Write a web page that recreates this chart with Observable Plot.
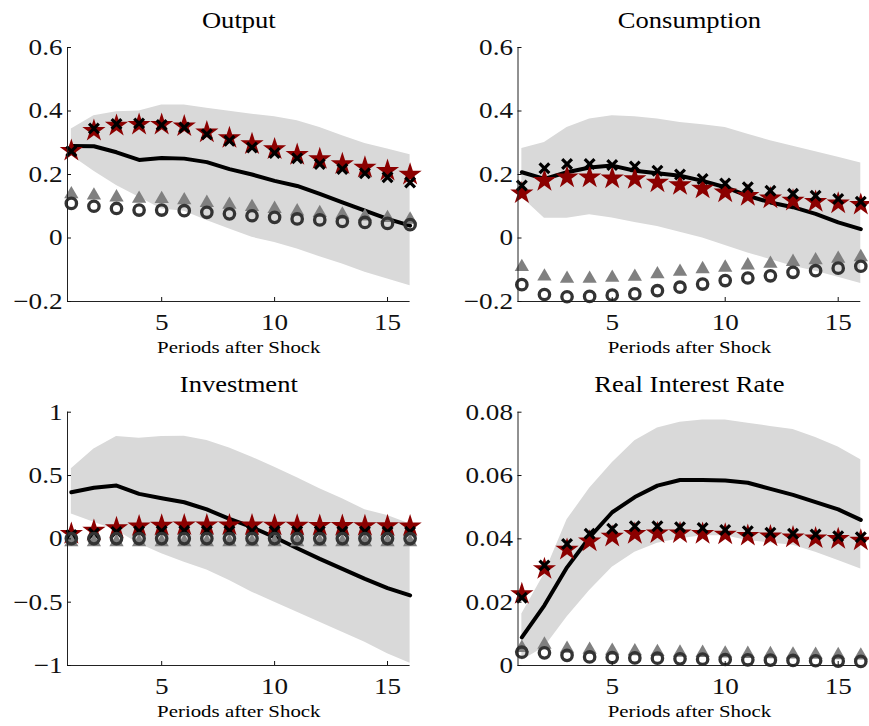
<!DOCTYPE html>
<html><head><meta charset="utf-8">
<script src="https://cdn.jsdelivr.net/npm/d3@7"></script>
<script src="https://cdn.jsdelivr.net/npm/@observablehq/plot@0.6"></script>
<style>
body{margin:0;background:#fff;}
#chart{position:relative;width:869px;height:726px;}
.panel{position:absolute;}
</style></head><body><div id="chart"></div>
<script>
const periods = [1,2,3,4,5,6,7,8,9,10,11,12,13,14,15,16];
const xTicks = [5,10,15];
const xLabel = "Periods after Shock";

// Output
const outTicks = [-0.2, 0, 0.2, 0.4, 0.6];
const outBandLo = [0.26,0.21,0.165,0.128,0.091,0.084,0.055,0.028,0.002,-0.014,-0.035,-0.059,-0.082,-0.108,-0.129,-0.15];
const outBandHi = [0.343,0.385,0.398,0.400,0.419,0.419,0.409,0.399,0.390,0.382,0.369,0.348,0.322,0.298,0.280,0.262];
const outLine = [0.29,0.289,0.27,0.246,0.252,0.25,0.239,0.217,0.2,0.18,0.164,0.139,0.112,0.086,0.06,0.039];
const outStar = [0.275,0.338,0.354,0.357,0.357,0.352,0.333,0.315,0.296,0.28,0.262,0.249,0.233,0.222,0.212,0.2];
const outCross = [0.273,0.345,0.359,0.361,0.356,0.348,0.327,0.306,0.285,0.268,0.251,0.233,0.217,0.204,0.191,0.175];
const outTri = [0.138,0.134,0.128,0.124,0.123,0.119,0.111,0.105,0.098,0.092,0.084,0.079,0.074,0.068,0.063,0.058];
const outCirc = [0.109,0.1,0.093,0.088,0.088,0.086,0.081,0.076,0.07,0.065,0.06,0.057,0.052,0.049,0.046,0.042];

// Consumption
const conTicks = [-0.2, 0, 0.2, 0.4, 0.6];
const conBandLo = [0.128,0.062,0.062,0.073,0.063,0.049,0.036,0.018,0.0,-0.024,-0.047,-0.068,-0.089,-0.105,-0.124,-0.143];
const conBandHi = [0.282,0.301,0.348,0.375,0.385,0.382,0.375,0.364,0.357,0.348,0.327,0.306,0.289,0.272,0.254,0.236];
const conLine = [0.207,0.186,0.207,0.222,0.228,0.212,0.204,0.196,0.18,0.16,0.133,0.112,0.097,0.076,0.049,0.028];
const conStar = [0.141,0.18,0.191,0.191,0.188,0.186,0.175,0.167,0.156,0.144,0.133,0.125,0.118,0.114,0.109,0.105];
const conCross = [0.165,0.22,0.233,0.233,0.23,0.225,0.212,0.2,0.186,0.172,0.16,0.149,0.139,0.133,0.123,0.114];
const conTri = [-0.091,-0.121,-0.128,-0.128,-0.125,-0.122,-0.114,-0.106,-0.098,-0.093,-0.086,-0.081,-0.075,-0.070,-0.065,-0.060];
const conCirc = [-0.147,-0.178,-0.185,-0.184,-0.18,-0.176,-0.166,-0.155,-0.145,-0.134,-0.126,-0.119,-0.108,-0.103,-0.095,-0.089];

// Investment
const invTicks = [-1, -0.5, 0, 0.5, 1];
const invBandLo = [0.197,0.132,0.066,-0.039,-0.118,-0.184,-0.245,-0.329,-0.421,-0.5,-0.579,-0.658,-0.737,-0.816,-0.908,-0.982];
const invBandHi = [0.553,0.71,0.808,0.795,0.808,0.81,0.776,0.718,0.645,0.566,0.482,0.395,0.316,0.229,0.184,0.118];
const invLine = [0.368,0.403,0.421,0.355,0.321,0.289,0.232,0.158,0.092,0.013,-0.074,-0.158,-0.237,-0.316,-0.389,-0.447];
const invStar = [0.04,0.065,0.085,0.1,0.105,0.108,0.108,0.108,0.107,0.106,0.105,0.104,0.103,0.102,0.101,0.1];
const invCross = [0.03,0.045,0.055,0.06,0.062,0.063,0.063,0.063,0.062,0.061,0.06,0.06,0.059,0.058,0.057,0.056];
const invTri = [-0.025,-0.025,-0.025,-0.025,-0.025,-0.025,-0.025,-0.025,-0.025,-0.025,-0.025,-0.025,-0.025,-0.025,-0.025,-0.025];
const invCirc = [0.002,0.002,0.002,0.002,0.002,0.002,0.002,0.002,0.002,0.002,0.002,0.002,0.002,0.002,0.002,0.002];

// Real Interest Rate
const rirTicks = [0, 0.02, 0.04, 0.06, 0.08];
const rirBandLo = [0.0016,0.0058,0.0153,0.0237,0.031,0.0358,0.0386,0.04,0.041,0.041,0.0395,0.0387,0.038,0.0358,0.0332,0.0305];
const rirBandHi = [0.0163,0.029,0.046,0.056,0.064,0.071,0.075,0.0768,0.0775,0.0775,0.0765,0.0755,0.0745,0.072,0.069,0.065];
const rirLine = [0.0089,0.019,0.031,0.0405,0.0484,0.0532,0.0568,0.0586,0.0586,0.0584,0.0577,0.0558,0.0539,0.0516,0.0493,0.046];
const rirStar = [0.0226,0.0305,0.0366,0.0392,0.0407,0.0416,0.0418,0.0418,0.0416,0.0414,0.041,0.0408,0.0405,0.0402,0.04,0.0395];
const rirCross = [0.0214,0.0316,0.0384,0.0416,0.0432,0.044,0.044,0.0437,0.0434,0.0428,0.0424,0.0419,0.0416,0.0414,0.0408,0.0405];
const rirTri = [0.0056,0.0066,0.0053,0.005,0.0047,0.0045,0.0043,0.0041,0.004,0.0038,0.0037,0.0036,0.0035,0.0034,0.0033,0.0032];
const rirCirc = [0.0042,0.004,0.0032,0.0027,0.0025,0.0024,0.0023,0.0021,0.002,0.0019,0.0018,0.0017,0.0016,0.0015,0.0014,0.0013];

const xDomain = [0.83, 16];
const fmt = d3.format("~g");
const FONT = '"Liberation Serif", "Times New Roman", serif';

function panel(cfg) {
  const data = periods.map((p, i) => ({
    p, lo: cfg.lo[i], hi: cfg.hi[i], line: cfg.line[i], star: cfg.star[i],
    cross: cfg.cross[i], tri: cfg.tri[i], circ: cfg.circ[i]
  }));
  const yDomain = [cfg.ticks[0], cfg.ticks[cfg.ticks.length - 1]];
  const svg = Plot.plot({
    width: cfg.width, height: cfg.height,
    marginLeft: cfg.mL, marginRight: cfg.mR, marginTop: cfg.mT, marginBottom: cfg.mB,
    x: {domain: xDomain},
    y: {domain: yDomain},
    style: {fontFamily: FONT, background: "transparent", color: "#111", overflow: "visible"},
    marks: [
      Plot.areaY(data, {x: "p", y1: "lo", y2: "hi", fill: "#d9d9d9"}),
      Plot.line(data, {x: "p", y: "line", stroke: "black", strokeWidth: 4}),
      Plot.dot(data, {x: "p", y: "star", symbol: "star", r: 7.3, fill: "#8b0000", stroke: "none"}),
      Plot.dot(data, {x: "p", y: "cross", symbol: "times", r: 4.5, stroke: "black", strokeWidth: 3.2, fill: "none"}),
      Plot.dot(data, {x: "p", y: "tri", symbol: "triangle", r: 5.3, fill: "#808080", stroke: "none"}),
      Plot.dot(data, {x: "p", y: "circ", symbol: "circle", r: 5.2, stroke: "#333", strokeWidth: 3.3, fill: "none"}),
      Plot.ruleX([xDomain[0]], {stroke: "#222"}),
      Plot.ruleY([yDomain[0]], {stroke: "#222"}),
      Plot.axisX({ticks: xTicks, label: null, tickSize: -4, tickPadding: 16.5, fontSize: 23, tickFormat: fmt}),
      Plot.axisY({ticks: cfg.ticks, label: null, tickSize: -4, tickPadding: 9, fontSize: 23, tickFormat: fmt}),
      Plot.text([cfg.title], {frameAnchor: "top", dy: cfg.titleDy, lineAnchor: "bottom", fontSize: 22.5, fill: "black"}),
      Plot.text([xLabel], {frameAnchor: "bottom", dy: cfg.labelDy, lineAnchor: "bottom", fontSize: 17.7, fill: "black"})
    ]
  });
  const div = document.createElement("div");
  div.className = "panel";
  div.style.left = cfg.left + "px";
  div.style.top = cfg.top + "px";
  div.appendChild(svg);
  document.getElementById("chart").appendChild(div);
  svg.querySelectorAll("text").forEach(t => {
    const n = t.getComputedTextLength();
    if (n > 0) {
      t.setAttribute("textLength", (n * 1.18).toFixed(2));
      t.setAttribute("lengthAdjust", "spacingAndGlyphs");
    }
  });
}

panel({title: "Output", ticks: outTicks, lo: outBandLo, hi: outBandHi, line: outLine, star: outStar, cross: outCross, tri: outTri, circ: outCirc,
  left: 0, top: 0, width: 435, height: 360, mL: 67, mR: 25.4, mT: 47, mB: 59, titleDy: -20, labelDy: 51});
panel({title: "Consumption", ticks: conTicks, lo: conBandLo, hi: conBandHi, line: conLine, star: conStar, cross: conCross, tri: conTri, circ: conCirc,
  left: 435, top: 0, width: 434, height: 360, mL: 82.5, mR: 8.7, mT: 47, mB: 59, titleDy: -20, labelDy: 51});
panel({title: "Investment", ticks: invTicks, lo: invBandLo, hi: invBandHi, line: invLine, star: invStar, cross: invCross, tri: invTri, circ: invCirc,
  left: 0, top: 360, width: 435, height: 366, mL: 67, mR: 25.4, mT: 51.7, mB: 61, titleDy: -20.5, labelDy: 51});
panel({title: "Real Interest Rate", ticks: rirTicks, lo: rirBandLo, hi: rirBandHi, line: rirLine, star: rirStar, cross: rirCross, tri: rirTri, circ: rirCirc,
  left: 435, top: 360, width: 434, height: 366, mL: 82.5, mR: 8.7, mT: 51.7, mB: 61, titleDy: -20.5, labelDy: 51});
</script>
</body></html>
